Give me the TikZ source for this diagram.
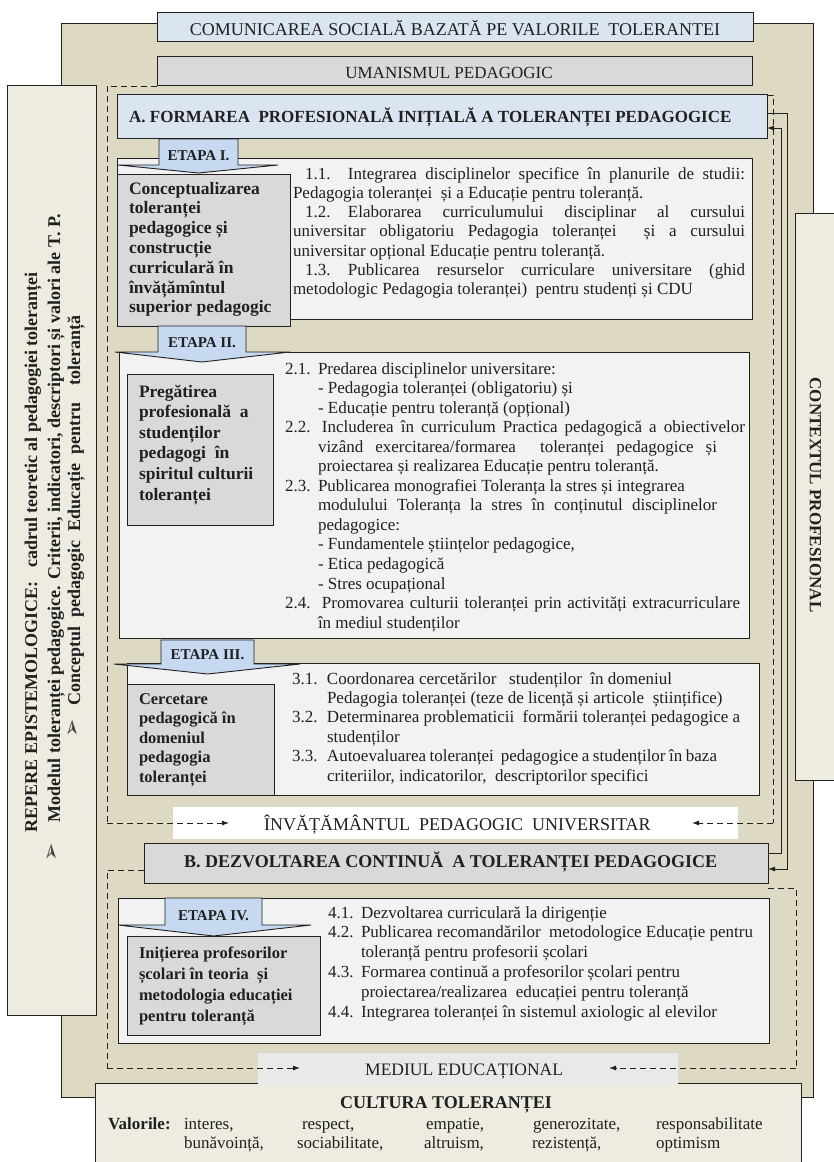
\documentclass[tikz,border=0pt]{standalone}
\usepackage{fontspec}
\setmainfont{Liberation Serif}
\newfontfamily\dejavu{DejaVu Sans}
\usetikzlibrary{arrows.meta}
\definecolor{beige}{HTML}{DDD9C3}
\definecolor{cream}{HTML}{EEECE1}
\definecolor{lblue}{HTML}{DBE5F1}
\definecolor{lgray}{HTML}{D9D9D9}
\definecolor{wbox}{HTML}{F2F2F2}
\definecolor{cblue}{HTML}{C6D9F1}
\definecolor{ink}{HTML}{202020}
\definecolor{tex}{HTML}{E9E9E9}
\newcommand\bx[6]{\node[#6, inner sep=0pt, outer sep=0pt, minimum width={(#4)-(#2)}, minimum height={(#5)-(#3)}] (#1) at ({((#2)+(#4))/2},{((#3)+(#5))/2}) {};}
\newcommand\callout[9]{%
  \filldraw[cal] (#2,#4) -- (#3,#4) -- (#3,#5) -- (#7,#5) -- ({((#2)+(#3))/2},#8) -- (#6,#5) -- (#2,#5) -- cycle;
  \node[calt] (#1) at ({((#2)+(#3))/2},{(#5)-9.5}) {#9};}
\newcommand\nm[2]{\makebox[#1pt][l]{#2}}
\newcommand\js[2]{\makebox[#1pt][s]{#2}}
\begin{document}
\begin{tikzpicture}[x=1pt,y=-1pt,
  box/.style={draw=ink, line width=1pt},
  cal/.style={fill=cblue, draw=ink, line width=0.9pt},
  calt/.style={inner sep=0pt, font=\bfseries\fontsize{15}{17}\selectfont, text=ink},
  conn/.style={draw=ink, line width=0.9pt},
  dsh/.style={draw=ink, line width=0.9pt, dash pattern=on 6pt off 4pt},
  arr/.style={-{Latex[length=7pt,width=5pt]}},
  tx/.style={anchor=base west, inner sep=0pt, outer sep=0pt, font=\fontsize{17}{20}\selectfont, text=ink},
  gb/.style={anchor=base west, inner sep=0pt, outer sep=0pt, font=\bfseries\fontsize{17.5}{20}\selectfont, text=ink},
  gs/.style={anchor=base west, inner sep=0pt, outer sep=0pt, font=\bfseries\fontsize{16.5}{20}\selectfont, text=ink},
  hd/.style={anchor=base, inner sep=0pt, outer sep=0pt, text=ink},
  lp/.style={anchor=base west, inner sep=0pt, outer sep=0pt, rotate=90, font=\bfseries\fontsize{18}{20}\selectfont, text=ink},
  bul/.style={inner sep=0pt, rotate=90, font=\dejavu\fontsize{22}{22}\selectfont, text=ink!85}]
\useasboundingbox (0,0) rectangle (834,1162);
\fill[white] (0,0) rectangle (834,1162);

% background frames
\bx{bg}{61}{23}{813}{1097}{box, fill=beige}
\bx{lpanel}{7}{85}{96}{1015}{box, fill=cream}
\bx{rpanel}{795}{213}{845}{780}{box, fill=cream}
\bx{com}{157}{12}{753}{41}{box, fill=lblue}
\bx{uman}{157}{56}{752}{85}{box, fill=lgray}

\node[hd, font=\fontsize{18}{20}\selectfont] (comt) at (455,35.5) {COMUNICAREA SOCIALĂ BAZATĂ PE VALORILE\ \ TOLERANTEI};
\node[hd, font=\fontsize{17}{20}\selectfont] (umant) at (449,78.5) {UMANISMUL PEDAGOGIC};

% left panel texts
\node[lp] (r1) at (37,832) {REPERE EPISTEMOLOGICE:\ \ \ cadrul teoretic al pedagogiei toleranței};
\node[bul] (b1) at (53,852) {➢};
\node[lp] (r2) at (60,822) {Modelul toleranței pedagogice. Criterii, indicatori, descriptori și valori ale T. P.};
\node[bul] (b2) at (74,728) {➢};
\node[lp] (r3) at (80,705) {\js{390}{Conceptul pedagogic Educație pentru\ \ toleranță}};

% right panel text
\node[inner sep=0pt, rotate=-90, font=\bfseries\fontsize{17}{20}\selectfont, text=ink] (ctx) at (815.5,495) {CONTEXTUL PROFESIONAL};

% dashed frame A (top and sides)
\coordinate (da1) at (157,86);
\coordinate (da2) at (107,86);
\coordinate (da3) at (767,95);
\coordinate (da4) at (773,95);
\draw[dsh] (da1) -- (da2) -- (107,823);
\draw[dsh] (da3) -- (da4) -- (773,823);

% A header
\bx{A}{117}{94}{767}{138}{box, fill=lblue}
\node[anchor=base west, inner sep=0pt, font=\bfseries\fontsize{17}{20}\selectfont, text=ink] (At) at (129,122) {A. FORMAREA\ \ PROFESIONALĂ INIȚIALĂ A TOLERANȚEI PEDAGOGICE};

% ---------- ETAPA I
\bx{o1}{117}{158}{752}{319}{box, fill=wbox}
\bx{g1}{117}{174}{290}{326}{box, fill=lgray}
\callout{e1}{159}{238}{139}{165}{118}{278}{173}{ETAPA I.}
\node[gb] (g1a) at (129,194) {Conceptualizarea};
\node[gb] (g1b) at (129,213.8) {toleranței};
\node[gb] (g1c) at (129,233.6) {pedagogice și};
\node[gb] (g1d) at (129,253.4) {construcție};
\node[gb] (g1e) at (129,273.2) {curriculară în};
\node[gb] (g1f) at (129,293) {învățămîntul};
\node[gb] (g1g) at (129,312.8) {superior pedagogic};

\node[tx] (i1) at (305,179) {\js{440}{\nm{43}{1.1.}Integrarea disciplinelor specifice în planurile de studii:}};
\node[tx] (i2) at (293,198.3) {Pedagogia toleranței\ \ și a Educație pentru toleranță.};
\node[tx] (i3) at (305,217.6) {\js{440}{\nm{43}{1.2.}Elaborarea curriculumului disciplinar al cursului}};
\node[tx] (i4) at (293,236.9) {\js{452}{universitar obligatoriu Pedagogia toleranței\ \ și a cursului}};
\node[tx] (i5) at (293,256.2) {universitar opțional Educație pentru toleranță.};
\node[tx] (i6) at (305,275.5) {\js{440}{\nm{43}{1.3.}Publicarea resurselor curriculare universitare (ghid}};
\node[tx] (i7) at (293,294.8) {metodologic Pedagogia toleranței)\ \ pentru studenți și CDU};

% ---------- ETAPA II
\bx{o2}{119}{352}{749}{638}{box, fill=wbox}
\bx{g2}{127}{374}{273}{525}{box, fill=lgray}
\callout{e2}{158}{246}{326}{352}{115}{290}{362}{ETAPA II.}
\node[gb] (g2a) at (139,397) {Pregătirea};
\node[gb] (g2b) at (139,417.6) {profesională\ \ a};
\node[gb] (g2c) at (139,438.2) {studenților};
\node[gb] (g2d) at (139,458.8) {pedagogi\ \ în};
\node[gb] (g2e) at (139,479.4) {spiritul culturii};
\node[gb] (g2f) at (139,500) {toleranței};

\node[tx] (j0) at (285,374) {\nm{33}{2.1.}Predarea disciplinelor universitare:};
\node[tx] (j1) at (318,393.55) {- Pedagogia toleranței (obligatoriu) și};
\node[tx] (j2) at (318,413.1) {- Educație pentru toleranță (opțional)};
\node[tx] (j3) at (285,432.65) {\js{460}{\nm{37}{2.2.}Includerea în curriculum Practica pedagogică a obiectivelor}};
\node[tx] (j4) at (318,452.2) {\js{399}{vizând exercitarea/formarea\ \ toleranței pedagogice și}};
\node[tx] (j5) at (318,471.75) {proiectarea și realizarea Educație pentru toleranță.};
\node[tx] (j6) at (285,491.3) {\nm{33}{2.3.}Publicarea monografiei Toleranța la stres și integrarea};
\node[tx] (j7) at (318,510.85) {\js{399}{modulului Toleranța la stres în conținutul disciplinelor}};
\node[tx] (j8) at (318,530.4) {pedagogice:};
\node[tx] (j9) at (318,549.95) {- Fundamentele științelor pedagogice,};
\node[tx] (j10) at (318,569.5) {- Etica pedagogică};
\node[tx] (j11) at (318,589.05) {- Stres ocupațional};
\node[tx] (j12) at (285,608.6) {\js{455}{\nm{37}{2.4.}Promovarea culturii toleranței prin activități extracurriculare}};
\node[tx] (j13) at (318,628.15) {în mediul studenților};

% ---------- ETAPA III
\bx{o3}{127}{663}{759}{795}{box, fill=wbox}
\bx{g3}{127}{684}{274}{795}{box, fill=lgray}
\callout{e3}{161}{254}{640}{664}{114}{300}{674}{ETAPA III.}
\node[gs] (g3a) at (139,704) {Cercetare};
\node[gs] (g3b) at (139,723.5) {pedagogică în};
\node[gs] (g3c) at (139,743) {domeniul};
\node[gs] (g3d) at (139,762.5) {pedagogia};
\node[gs] (g3e) at (139,782) {toleranței};

\node[tx] (k0) at (292,684) {\nm{35}{3.1.}Coordonarea cercetărilor\ \ \ studenților\ \ în domeniul};
\node[tx] (k1) at (327,703.4) {Pedagogia toleranței (teze de licență și articole\ \ științifice)};
\node[tx] (k2) at (292,722.8) {\js{448}{\nm{35}{3.2.}Determinarea problematicii\ \ formării toleranței pedagogice a}};
\node[tx] (k3) at (327,742.2) {studenților};
\node[tx] (k4) at (292,761.6) {\js{425}{\nm{35}{3.3.}Autoevaluarea toleranței\ \ pedagogice a studenților în baza}};
\node[tx] (k5) at (327,781) {criteriilor, indicatorilor,\ \ descriptorilor specifici};

% label universitar
\bx{lab1}{173}{807}{738}{839}{fill=white}
\node[anchor=base west, inner sep=0pt, font=\fontsize{18}{20}\selectfont, text=ink] (lab1t) at (264,830) {ÎNVĂȚĂMÂNTUL\ \ PEDAGOGIC\ \ UNIVERSITAR};
\coordinate (la1) at (229,823);
\coordinate (la2) at (692,823);
\draw[dsh, arr] (107,823) -- (la1);
\draw[dsh, arr] (773,823) -- (la2);

% B header
\bx{B}{144}{843}{768}{883}{box, fill=lgray}
\node[anchor=base west, inner sep=0pt, font=\bfseries\fontsize{18}{20}\selectfont, text=ink] (Bt) at (184,867) {B. DEZVOLTAREA CONTINUĂ\ \ A TOLERANȚEI PEDAGOGICE};

% connectors A <-> B
\draw[conn, arr] ([yshift=10pt]B.east) -- ++(13,0) |- ([yshift=-12pt]A.east);
\draw[conn, arr] ([yshift=3pt]A.east) -- ++(20,0) |- ([yshift=-6pt]B.east);

% dashed frame B
\draw[dsh] (144,870) -- (107,870) -- (107,1068);
\draw[dsh] (768,888) -- (796,888) -- (796,1068);

% ---------- ETAPA IV
\bx{o4}{118}{898}{769}{1043}{box, fill=wbox}
\bx{g4}{127}{936}{320}{1035}{box, fill=lgray}
\callout{e4}{165}{262}{898}{925}{118}{311}{936}{ETAPA IV.}
\node[gs] (g4a) at (139,958) {Inițierea profesorilor};
\node[gs] (g4b) at (139,979) {școlari în teoria\ \ și};
\node[gs] (g4c) at (139,1000) {metodologia educației};
\node[gs] (g4d) at (139,1021) {pentru toleranță};

\node[tx] (m0) at (328,918) {\nm{33}{4.1.}Dezvoltarea curriculară la dirigenție};
\node[tx] (m1) at (328,937.8) {\js{425}{\nm{33}{4.2.}Publicarea recomandărilor\ \ metodologice Educație pentru}};
\node[tx] (m2) at (361,957.6) {toleranță pentru profesorii școlari};
\node[tx] (m3) at (328,977.4) {\js{352}{\nm{33}{4.3.}Formarea continuă a profesorilor școlari pentru}};
\node[tx] (m4) at (361,997.2) {proiectarea/realizarea\ \ educației pentru toleranță};
\node[tx] (m5) at (328,1017) {\nm{33}{4.4.}Integrarea toleranței în sistemul axiologic al elevilor};

% culture box
\bx{cult}{95}{1083}{801}{1175}{box, fill=cream}
\node[hd, font=\bfseries\fontsize{18}{20}\selectfont] (cultt) at (446,1108) {CULTURA TOLERANȚEI};
\node[tx, font=\bfseries\fontsize{17}{20}\selectfont] (val) at (108,1129) {Valorile:};
\node[tx] (v1) at (184,1129) {interes,};
\node[tx] (v2) at (302,1129) {respect,};
\node[tx] (v3) at (426,1129) {empatie,};
\node[tx] (v4) at (533,1129) {generozitate,};
\node[tx] (v5) at (656,1129) {responsabilitate};
\node[tx] (w1) at (184,1148) {bunăvoință,};
\node[tx] (w2) at (297,1148) {sociabilitate,};
\node[tx] (w3) at (424,1148) {altruism,};
\node[tx] (w4) at (532,1148) {rezistență,};
\node[tx] (w5) at (656,1148) {optimism};

% label mediul
\bx{lab2}{258}{1053}{678}{1084}{fill=tex}
\node[anchor=base west, inner sep=0pt, font=\fontsize{17.5}{20}\selectfont, text=ink] (lab2t) at (365,1075) {MEDIUL EDUCAȚIONAL};
\coordinate (lb1) at (300,1068);
\coordinate (lb2) at (609,1068);
\draw[dsh, arr] (107,1068) -- (lb1);
\draw[dsh, arr] (796,1068) -- (lb2);
\end{tikzpicture}
\end{document}
